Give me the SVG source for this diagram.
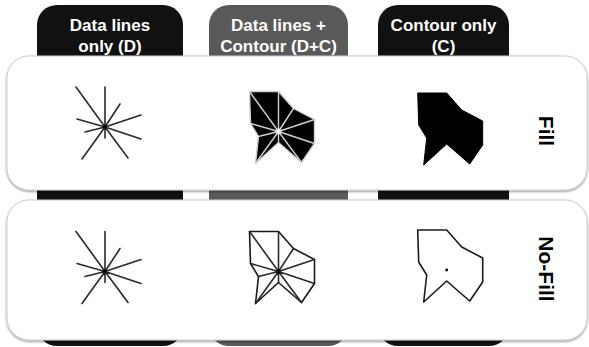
<svg xmlns="http://www.w3.org/2000/svg" xmlns:xlink="http://www.w3.org/1999/xlink" width="589" height="347" viewBox="0 0 589 347">
<style>
.tabtxt{font-family:"Liberation Sans",Arial,sans-serif;font-weight:bold;font-size:17px;fill:#fff;text-anchor:middle}
.rowtxt{font-family:"Liberation Sans",Arial,sans-serif;font-weight:bold;font-size:21px;fill:#000;text-anchor:middle}
.panel{fill:#fff;stroke:#cfcfcf;stroke-width:1}
.ray{fill:none;stroke:#2a2a2a;stroke-width:1.6;stroke-linecap:round}
.outline{fill:none;stroke:#1a1a1a;stroke-width:1.6;stroke-linejoin:round}
.solid{fill:#000;stroke:#000;stroke-width:1}
.filled{fill:#000;stroke:#d0d0d0;stroke-width:1.4;stroke-linejoin:round}
.lray{fill:none;stroke:#d0d0d0;stroke-width:1.4}
</style>
<defs>
<filter id="sh" x="-5%" y="-10%" width="110%" height="125%">
<feDropShadow dx="0" dy="1.2" stdDeviation="1.2" flood-color="#000" flood-opacity="0.45"/>
</filter>
<path id="poly" d="M-29,-40 L0,-40 L15,-23 L36,-12 L36,12 L23,31 L0,11 L-23,32 L-20,5 L-28,-8 Z"/>
<path id="rays" d="M0,0 L-29,-40 M0,0 L0,-40 M0,0 L15,-23 M0,0 L36,-12 M0,0 L36,12 M0,0 L23,31 M0,0 L0,11 M0,0 L-23,32 M0,0 L-20,5 M0,0 L-28,-8"/>
<radialGradient id="glow">
<stop offset="0" stop-color="#fff"/>
<stop offset="1" stop-color="#fff" stop-opacity="0"/>
</radialGradient>
</defs>

<g id="tab-d">
<rect x="37" y="5" width="146" height="341" rx="20" fill="#111"/>
<text class="tabtxt" x="110" y="31">Data lines</text>
<text class="tabtxt" x="110" y="52">only (D)</text>
</g>
<g id="tab-dc">
<rect x="209" y="5" width="139" height="341" rx="20" fill="#595959"/>
<text class="tabtxt" x="278.5" y="31">Data lines +</text>
<text class="tabtxt" x="278.5" y="52">Contour (D+C)</text>
</g>
<g id="tab-c">
<rect x="378" y="5" width="131" height="341" rx="20" fill="#111"/>
<text class="tabtxt" x="443.5" y="31">Contour only</text>
<text class="tabtxt" x="443.5" y="52">(C)</text>
</g>

<g id="panel-fill">
<rect class="panel" x="7" y="56" width="580" height="134" rx="22" filter="url(#sh)"/>
<text class="rowtxt" transform="translate(539,131) rotate(90)">Fill</text>
</g>
<g id="panel-nofill">
<rect class="panel" x="7" y="200" width="580" height="140" rx="22" filter="url(#sh)"/>
<text class="rowtxt" transform="translate(539,269) rotate(90)">No-Fill</text>
</g>

<g id="fill-d" transform="translate(105,127)">
<use href="#rays" class="ray"/>
<circle r="2" fill="#000"/>
</g>
<g id="fill-dc" transform="translate(278.5,131.5)">
<use href="#poly" class="filled"/>
<use href="#rays" class="lray"/>
<circle r="4" fill="url(#glow)"/>
</g>
<g id="fill-c" transform="translate(446.7,133)">
<use href="#poly" class="solid"/>
</g>

<g id="nofill-d" transform="translate(105,271.5)">
<use href="#rays" class="ray"/>
<circle r="2" fill="#000"/>
</g>
<g id="nofill-dc" transform="translate(278.5,271.5)">
<use href="#poly" class="outline"/>
<use href="#rays" class="ray"/>
<circle r="2" fill="#000"/>
</g>
<g id="nofill-c" transform="translate(446.7,270)">
<use href="#poly" class="outline"/>
<circle r="1.4" fill="#000"/>
</g>

<g id="connectors"></g>
</svg>
